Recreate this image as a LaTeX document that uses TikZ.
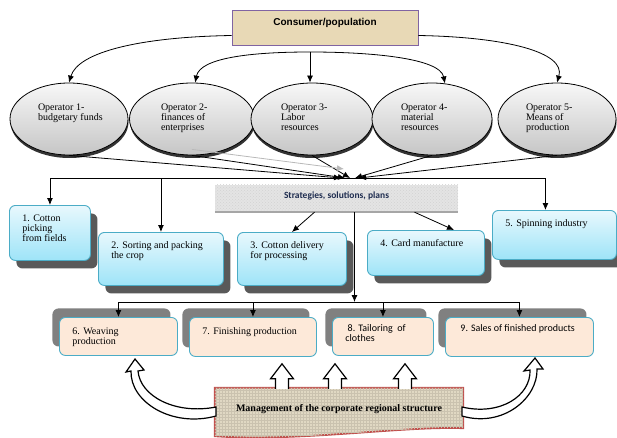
\documentclass[tikz,border=0pt]{standalone}
\usepackage{fontspec}
\setmainfont{Liberation Serif}
\newfontfamily\arialfont{Liberation Sans}
\newfontfamily\calibrifont{Carlito}
\usepackage{xcolor}
\usepackage{tikz}
\usetikzlibrary{arrows.meta, positioning, calc, shapes.geometric, shadows, backgrounds, patterns}

\definecolor{consfill}{RGB}{232,217,182}
\definecolor{consline}{RGB}{128,100,162}
\definecolor{boxline}{RGB}{75,172,198}
\definecolor{bluetop}{RGB}{232,248,253}
\definecolor{bluebot}{RGB}{158,228,248}
\definecolor{peach}{RGB}{253,233,217}
\definecolor{mgmtfill}{RGB}{224,216,195}
\definecolor{mgmtline}{RGB}{192,80,77}
\definecolor{stratfill}{RGB}{228,228,228}
\definecolor{navy}{RGB}{31,45,80}

% text blocks set at the top of a box of fixed size
\newcommand{\lefttext}[4]{\parbox[c][#2][t]{#1}{\raggedright\leftskip=13pt\relax\rule{0pt}{#3}#4}}
\newcommand{\midtext}[4]{\parbox[c][#2][t]{#1}{\centering\rule{0pt}{#3}#4}}
\newcommand{\optext}[1]{\parbox[c][36pt][t]{80pt}{\raggedright\leftskip=9pt\relax\rule{0pt}{9.5pt}#1}}

\begin{document}
\begin{tikzpicture}[
		x=1pt, y=-1pt,
		font=\fontsize{10}{10}\selectfont,
		consbox/.style={rectangle, draw=consline, line width=0.9pt, fill=consfill, inner sep=0pt},
		oper/.style={ellipse, draw=black, line width=0.8pt, top color=gray!6, bottom color=gray!45, inner sep=0pt, minimum height=72pt,
			drop shadow={shadow xshift=0.5pt, shadow yshift=-3pt, fill=black!80, opacity=1}},
		stratbox/.style={rectangle, fill=stratfill, inner sep=0pt, text=navy, postaction={pattern=crosshatch dots, pattern color=gray!35}},
		bluebox/.style={rectangle, rounded corners=6pt, draw=boxline, line width=0.9pt, top color=bluetop, bottom color=bluebot, inner sep=0pt, anchor=north west,
			drop shadow={shadow xshift=7pt, shadow yshift=-8pt, fill=black!65, opacity=1}},
		peachbox/.style={rectangle, rounded corners=6pt, draw=boxline, line width=0.9pt, fill=peach, inner sep=0pt, anchor=north west,
			drop shadow={shadow xshift=-7pt, shadow yshift=9pt, fill=black!50, opacity=1}},
		arr/.style={-{Latex[length=7pt, width=6pt]}, line width=0.8pt},
		blockarr/.style={draw=black, fill=white, line width=1.2pt, line join=miter}
		]
		\useasboundingbox (0,0) rectangle (617,438);
		
		% Consumer box at the top
		\node[consbox] (cons) at (325,27.5) {\midtext{186pt}{35pt}{16pt}{\arialfont\bfseries Consumer/population}};
		
		% Five operators
		\node[oper, minimum width=118pt] (op1) at (69,119) {\optext{Operator 1-\\budgetary funds}};
		\node[oper, minimum width=125pt] (op2) at (192,119) {\optext{Operator 2-\\finances of\\enterprises}};
		\node[oper, minimum width=122pt] (op3) at (312,119) {\optext{Operator 3-\\Labor\\resources}};
		\node[oper, minimum width=120pt] (op4) at (432,119) {\optext{Operator 4-\\material\\resources}};
		\node[oper, minimum width=118pt] (op5) at (557,119) {\optext{Operator 5-\\Means of\\production}};
		
		% Strategies strip
		\node[stratbox] (strat) at (336.5,198.5) {\midtext{243pt}{27pt}{13.5pt}{\calibrifont\bfseries\fontsize{9.5}{10}\selectfont Strategies, solutions, plans}};
		\draw[gray!70, line width=1.5pt] (strat.south west) -- (strat.south east);
		
		% First row of stages
		\node[bluebox] (box1) at (9,205) {\lefttext{81pt}{55pt}{16pt}{1. Cotton\\picking\\from fields}};
		\node[bluebox] (box2) at (98,232) {\lefttext{125pt}{53pt}{16pt}{2. Sorting and packing\\the crop}};
		\node[bluebox] (box3) at (237,232) {\lefttext{109pt}{53pt}{16pt}{3. Cotton delivery\\for processing}};
		\node[bluebox] (box4) at (367,230) {\lefttext{117pt}{45pt}{16pt}{4. Card manufacture}};
		\node[bluebox] (box5) at (492,210) {\lefttext{124pt}{49pt}{16pt}{5. Spinning industry}};
		
		% Second row of stages
		\node[peachbox] (box6) at (59,317) {\lefttext{118pt}{38pt}{17.5pt}{6. Weaving\\production}};
		\node[peachbox] (box7) at (189,317) {\lefttext{127pt}{39pt}{17.5pt}{7. Finishing production}};
		\node[peachbox] (box8) at (332,317) {\lefttext{101pt}{38pt}{14.5pt}{\calibrifont\ 8. Tailoring\ \ of\\clothes}};
		\node[peachbox] (box9) at (445,317) {\lefttext{148pt}{39pt}{14.5pt}{\calibrifont\hspace*{2pt}9. Sales of finished products}};
		
		% Management at the bottom
		\node[inner sep=0pt] (mgmt) at (339,412) {\midtext{248pt}{48pt}{23.5pt}{\bfseries Management of the corporate regional structure}};
		\begin{pgfonlayer}{background}
			\filldraw[draw=mgmtline, line width=1.8pt, fill=mgmtfill, postaction={pattern=grid, pattern color=black!10!mgmtfill}]
			(mgmt.north west) -- (mgmt.north east) -- ([yshift=8pt]mgmt.south east)
			.. controls (400,426) and (300,442) .. (mgmt.south west) -- cycle;
		\end{pgfonlayer}
		
		% Consumer to operators
		\coordinate (split) at (310,52);
		\draw[arr] ([yshift=-8pt]cons.west) .. controls (140,37) and (78,52) .. (op1.north);
		\draw[arr] ([yshift=-8pt]cons.east) .. controls (505,37) and (566,52) .. (op5.north);
		\draw[arr] (split) .. controls (250,52) and (200,58) .. (op2.85);
		\draw[arr] (split) .. controls (370,52) and (440,58) .. (op4.70);
		\draw[arr] (split) -- (split |- op3.north);
		
		% Operators to strategies
		\coordinate (hub) at (350,178);
		\draw[arr] (op1.south) -- ([xshift=-9pt]hub);
		\draw[arr] (op2.south) -- ([xshift=-5pt]hub);
		\draw[arr] (op3.south) -- (hub);
		\draw[arr] (op4.south) -- ([xshift=5pt]hub);
		\draw[arr] (op5.south) -- ([xshift=9pt]hub);
		\draw[arr, gray!55] ([yshift=6pt]op2.south) -- ([xshift=-6pt, yshift=9pt]hub);
		
		% Hub to first row
		\draw[arr] (hub) -| (box1.north);
		\draw[arr] (hub) -| (box2.north);
		\draw[arr] (hub) -| ([xshift=-9pt]box5.north);
		\draw[arr] ([xshift=-22pt]strat.south) -- (box3.north);
		\draw[arr] ([xshift=78pt]strat.south) -- ([xshift=28pt]box4.north);
		
		% Strategies to second row
		\coordinate (bus) at (354.5,302);
		\draw[arr] ([xshift=18pt]strat.south) -- (bus);
		\draw[arr] (bus) -| (box6.north);
		\draw[arr] (bus) -| (box7.north);
		\draw[arr] (bus) -| (box8.north);
		\draw[arr] (bus) -| (box9.north);
		
		% Block arrows from management
		\foreach \dx in {-57,-4,66}
			\filldraw[blockarr] ([xshift=\dx pt, yshift=-1pt]mgmt.north) ++(-6.5,0) -- ++(0,-10) -- ++(-5,0) -- ++(11.5,-15) -- ++(11.5,15) -- ++(-5,0) -- ++(0,10);
		\filldraw[blockarr] (138,371) .. controls (140,396) and (175,415) .. (216,407) -- (216,416)
			.. controls (172,428) and (130,402) .. (131,371) -- (126,372) -- (135,359) -- (144,370) -- cycle;
		\filldraw[blockarr] (530,370) .. controls (531,396) and (500,416) .. (462,407) -- (462,416)
			.. controls (503,428) and (538,398) .. (537,369) -- (543,369) -- (535,358) -- (524,371) -- cycle;
		
	\end{tikzpicture}
\end{document}
